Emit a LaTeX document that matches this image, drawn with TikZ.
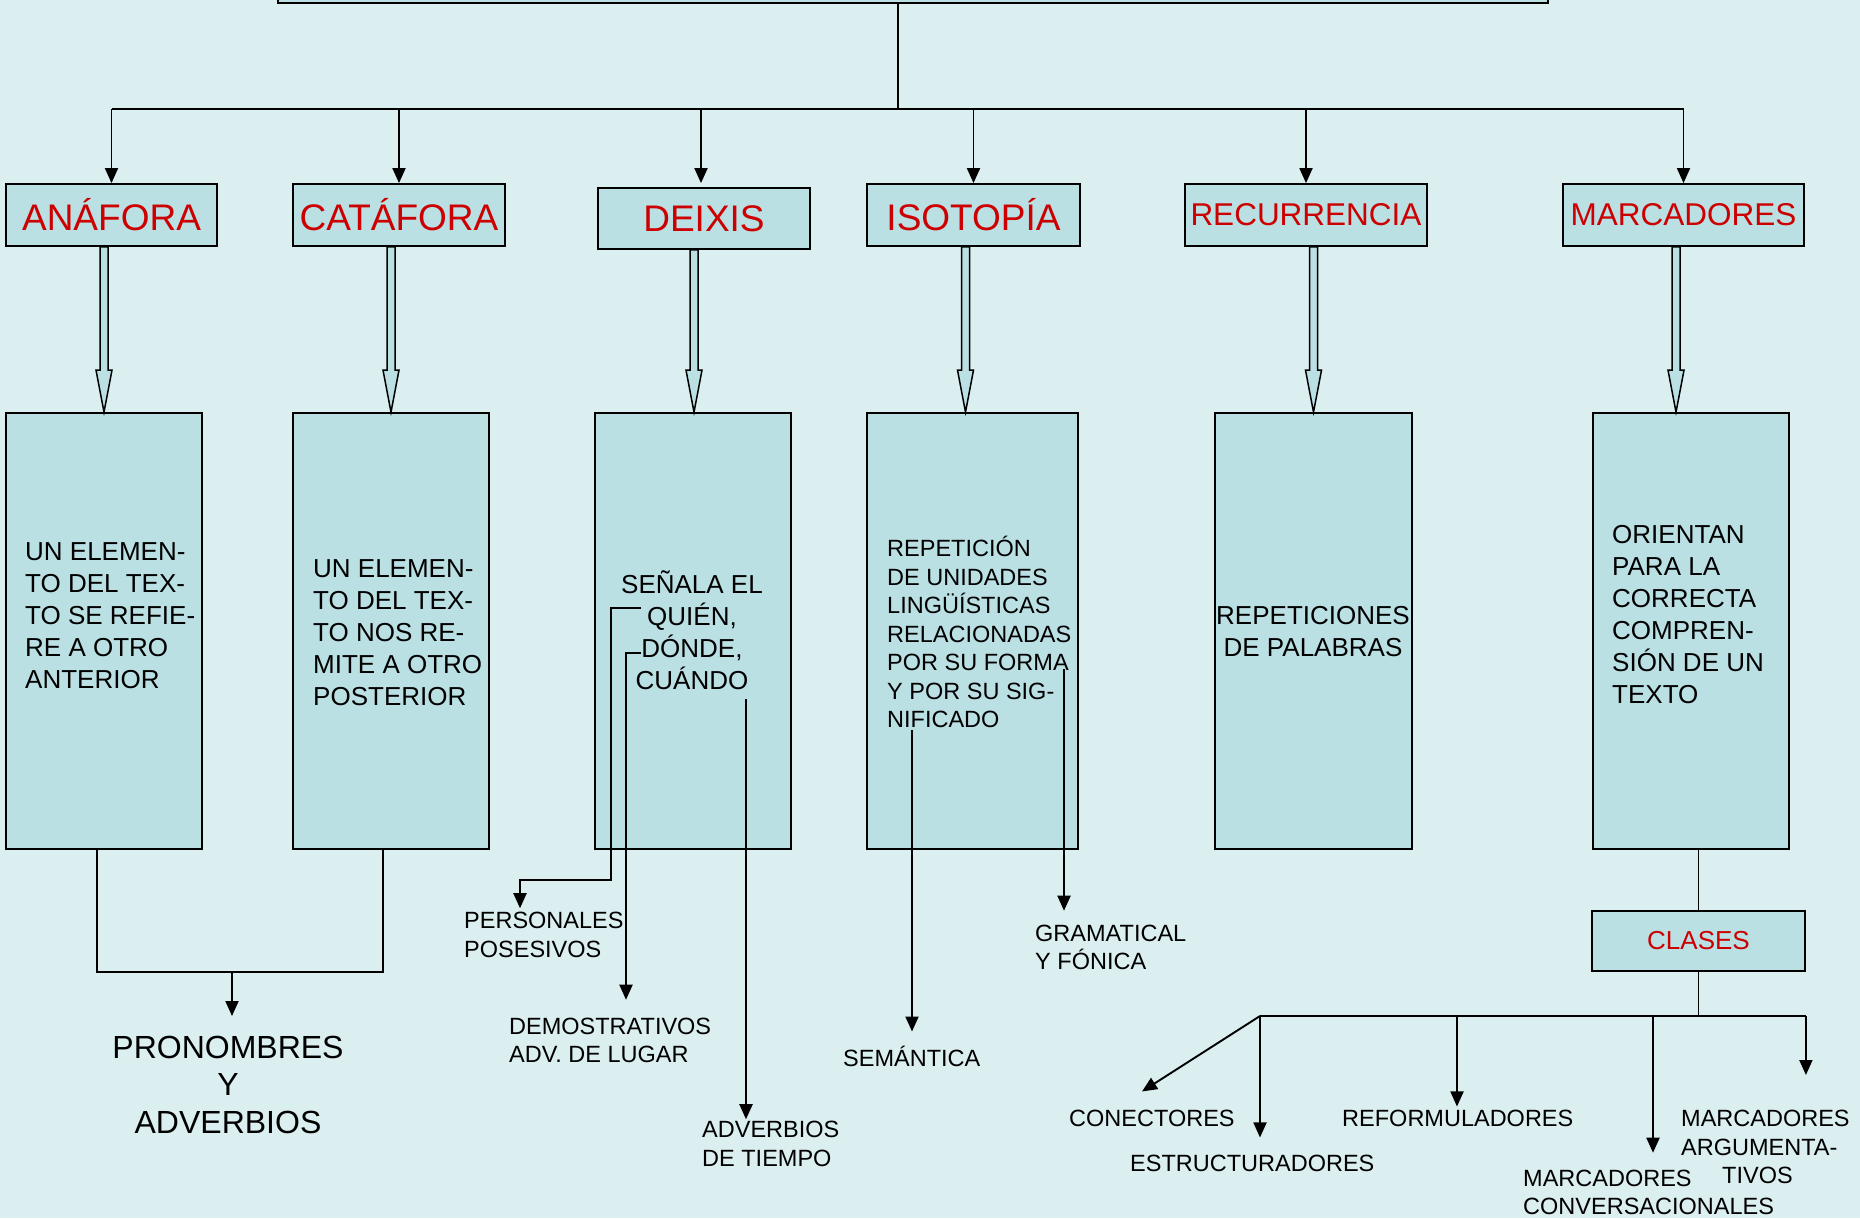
\documentclass[tikz,border=0pt]{standalone}
\usepackage{fontspec}
\setmainfont{Liberation Sans}
\usetikzlibrary{arrows.meta,calc}

\definecolor{fondo}{RGB}{219,238,240}
\definecolor{caja}{RGB}{186,224,228}
\definecolor{rojo}{RGB}{204,0,0}

\tikzset{
  titulo/.style={draw, line width=1.8pt, fill=caja, text=rojo, minimum height=62pt, inner sep=0pt, font=\fontsize{37}{44}\selectfont},
  cuerpo/.style={draw, line width=1.8pt, fill=caja, minimum width=196pt, minimum height=436pt},
  texto/.style={align=left, inner sep=0pt, font=\fontsize{26}{32}\selectfont},
  etiqueta/.style={align=left, inner sep=0pt, font=\fontsize{23.5}{28.5}\selectfont},
  linea/.style={line width=1.9pt},
  flecha/.style={linea, -{Triangle[length=15pt,width=13pt]}},
  hueca/.style={draw, line width=1.5pt, fill=caja},
}

% open arrow between a heading and its box
\newcommand{\flechahueca}[3]{%
  \draw[hueca] let \p1=(#1.south), \p2=([xshift=#3]#2.north) in
    (\x2-4pt,\y1) -- (\x2-4pt,\y2+42pt) -- (\x2-8pt,\y2+42pt) -- (\x2,\y2)
    -- (\x2+8pt,\y2+42pt) -- (\x2+4pt,\y2+42pt) -- (\x2+4pt,\y1) -- cycle;}

\begin{document}
\begin{tikzpicture}[x=1pt, y=-1pt]
  \useasboundingbox (0,0) rectangle (1860,1218);
  \fill[fondo] (0,0) rectangle (1860,1218);
  \clip (0,0) rectangle (1860,1218);

  % Title box (cut off at the top)
  \node[draw, line width=1.8pt, fill=caja, minimum width=1270pt, minimum height=80pt, anchor=south] (raiz) at (913,4) {};

  % Headings
  \node[titulo, minimum width=211pt] (anaH) at (111.5,215) {ANÁFORA};
  \node[titulo, minimum width=212pt] (catH) at (399,215) {CATÁFORA};
  \node[titulo, minimum width=212pt, minimum height=61pt] (deiH) at (704,218.5) {DEIXIS};
  \node[titulo, minimum width=213pt] (isoH) at (973.5,215) {ISOTOPÍA};
  \node[titulo, minimum width=242pt, font=\fontsize{31.5}{38}\selectfont] (recH) at (1306,215) {RECURRENCIA};
  \node[titulo, minimum width=241pt, font=\fontsize{31.5}{38}\selectfont] (marH) at (1683.5,215) {MARCADORES};

  \draw[linea] ([xshift=-15pt]raiz.south) -- ++(0,105) coordinate (bus);
  \draw[linea] (anaH.north |- bus) -- (marH.north |- bus);
  \foreach \nm in {anaH,catH,isoH,recH,marH}
    \draw[flecha] (\nm.north |- bus) -- (\nm.north);
  \draw[flecha] ([xshift=-3pt]deiH.north |- bus) -- ([xshift=-3pt,yshift=4pt]deiH.north);

  % Boxes
  \node[cuerpo] (anaB) at (104,631) {};
  \node[cuerpo] (catB) at (391,631) {};
  \node[cuerpo] (deiB) at (693,631) {};
  \node[cuerpo, minimum width=211pt] (isoB) at (972.5,631) {};
  \node[cuerpo, minimum width=197pt] (recB) at (1313.5,631) {};
  \node[cuerpo] (marB) at (1691,631) {};

  \node[texto, anchor=west] (anaT) at (25,615.5) {UN ELEMEN-\\TO DEL TEX-\\TO SE REFIE-\\RE A OTRO\\ANTERIOR};
  \node[texto, anchor=west] (catT) at (313,633) {UN ELEMEN-\\TO DEL TEX-\\TO NOS RE-\\MITE A OTRO\\POSTERIOR};
  \node[texto, align=center] (deiT) at (692,630) {SEÑALA EL\\QUIÉN,\\DÓNDE,\\CUÁNDO};
  \node[etiqueta, anchor=west] (isoT) at (887,632) {REPETICIÓN\\DE UNIDADES\\LINGÜÍSTICAS\\RELACIONADAS\\POR SU FORMA\\Y POR SU SIG-\\NIFICADO};
  \node[texto, align=center] (recT) at (1313,632) {REPETICIONES\\DE PALABRAS};
  \node[texto, anchor=west] (marT) at (1612,615) {ORIENTAN\\PARA LA\\CORRECTA\\COMPREN-\\SIÓN DE UN\\TEXTO};

  \flechahueca{anaH}{anaB}{0pt}
  \flechahueca{catH}{catB}{0pt}
  \flechahueca{deiH}{deiB}{1pt}
  \flechahueca{isoH}{isoB}{-7pt}
  \flechahueca{recH}{recB}{0pt}
  \flechahueca{marH}{marB}{-15pt}

  % Labels
  \node[etiqueta, align=center, font=\fontsize{32}{37.5}\selectfont] (pron) at (228,1084.5) {PRONOMBRES\\Y\\ADVERBIOS};
  \node[etiqueta, anchor=west] (pers) at (464,935) {PERSONALES\\POSESIVOS};
  \node[etiqueta, anchor=west] (demo) at (509,1040.5) {DEMOSTRATIVOS\\ADV. DE LUGAR};
  \node[etiqueta, anchor=west] (advt) at (702,1144) {ADVERBIOS\\DE TIEMPO};
  \node[etiqueta, anchor=west] (sem) at (843,1056) {SEMÁNTICA};
  \node[etiqueta, anchor=west] (gram) at (1035,947.5) {GRAMATICAL\\Y FÓNICA};

  % Anáfora, catáfora
  \draw[linea] ([xshift=-7pt]anaB.south) -- ++(0,122) -| ([xshift=-8pt]catB.south);
  \coordinate (pjoin) at (232,971);
  \draw[flecha] (pjoin) -- ++(0,45);

  % Deixis
  \coordinate (dquien) at (641,608);
  \coordinate (ddonde) at (641,653);
  \coordinate (dcuando) at (746,699);
  \draw[flecha] (dquien) -- ++(-30,0) -- ++(0,272) -| ($(pers.north west)+(56,-4)$);
  \draw[flecha] (ddonde) -- ++(-15,0) -- ($(demo.north west)+(117,-18)$);
  \draw[flecha] (dcuando) -- ($(advt.north west)+(44,-2)$);

  % Isotopia
  \coordinate (iforma) at (1064,669);
  \coordinate (isig) at (912,730);
  \draw[flecha] (iforma) -- ($(gram.north west)+(29,-14)$);
  \draw[flecha] (isig) -- ($(sem.north west)+(69,-14)$);

  % Clases
  \node[titulo, minimum width=213pt, minimum height=60pt, font=\fontsize{26}{32}\selectfont] (clases) at (1698.5,941) {CLASES};
  \node[etiqueta, anchor=west] (conec) at (1069,1118) {CONECTORES};
  \node[etiqueta, anchor=west] (estruc) at (1130,1163) {ESTRUCTURADORES};
  \node[etiqueta, anchor=west] (reform) at (1342,1118) {REFORMULADORES};
  \node[etiqueta, anchor=west] (marg) at (1681,1147) {MARCADORES\\ARGUMENTA-\\\hspace*{41pt}TIVOS};
  \node[etiqueta, anchor=west] (mconv) at (1523,1192.5) {MARCADORES\\CONVERSACIONALES};

  \draw[linea] (marB.south -| clases.north) -- (clases.north);
  \coordinate (fork) at (1260,1016);
  \draw[linea] (clases.south) |- (fork);
  \draw[linea] (fork) -- (fork -| clases.east);
  \draw[flecha] (fork) -- ($(conec.north west)+(73,-18)$);
  \draw[flecha] (fork) -- ($(estruc.north west)+(130,-17)$);
  \coordinate (tref) at ($(reform.north west)+(115,-3)$);
  \coordinate (tconv) at ($(mconv.north west)+(130,-17)$);
  \draw[flecha] (tref |- fork) -- (tref);
  \draw[flecha] (tconv |- fork) -- (tconv);
  \draw[flecha] (clases.east |- fork) -- ++(0,59);
\end{tikzpicture}
\end{document}
